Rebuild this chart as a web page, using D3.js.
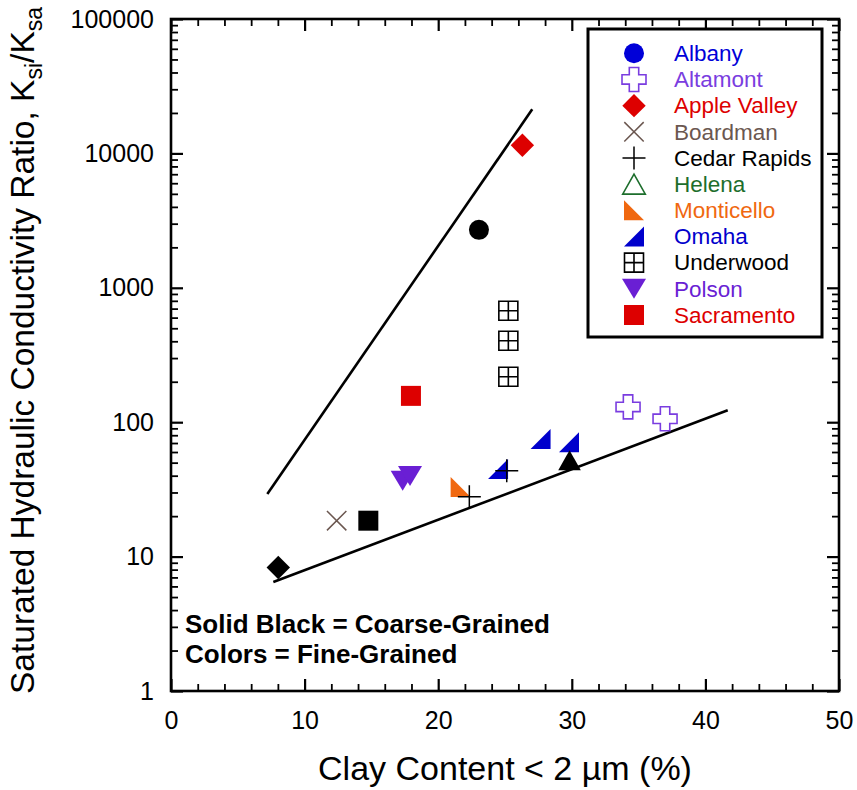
<!DOCTYPE html>
<html>
<head>
<meta charset="utf-8">
<script src="https://cdn.jsdelivr.net/npm/d3@7"></script>
<style>
  body { margin: 0; background: #fff; }
  text { font-family: "Liberation Sans", Arial, sans-serif; }
</style>
</head>
<body>
<div id="chart"></div>
<script>
// axis ticks
const xTicks = [0, 10, 20, 30, 40, 50];
const yTicks = [1, 10, 100, 1000, 10000, 100000];

// legend entries
const sites = ["Albany", "Altamont", "Apple Valley", "Boardman", "Cedar Rapids", "Helena",
               "Monticello", "Omaha", "Underwood", "Polson", "Sacramento"];
const siteSymbols = ["circle", "openCross", "diamond", "x", "plus", "openTriangle",
                     "rightTriLeft", "rightTriRight", "gridSquare", "downTriangle", "square"];
const siteColors = ["#0000d8", "#7a3de0", "#dd0000", "#6b5750", "#000000", "#1d6e2c",
                    "#f06810", "#0000cc", "#000000", "#6a1fd4", "#dd0000"];

// data points
const pointSite = ["Albany", "Apple Valley", "Underwood", "Underwood", "Underwood", "Sacramento",
                   "Polson", "Polson", "Boardman", "Sacramento", "Apple Valley", "Monticello",
                   "Omaha", "Omaha", "Omaha", "Helena", "Cedar Rapids", "Cedar Rapids",
                   "Altamont", "Altamont"];
const pointCoarse = [1, 0, 0, 0, 0, 0, 0, 0, 0, 1, 1, 0, 0, 0, 0, 1, 0, 0, 0, 0];
const clayPct = [23.05, 26.3, 25.25, 25.25, 25.25, 17.96, 17.34, 17.89, 12.4, 14.77, 8.03, 21.68,
                 24.48, 27.66, 29.79, 29.83, 22.33, 25.13, 34.21, 36.98];
const kRatio = [2700, 11500, 675, 404, 218, 157, 36.7, 39.8, 18.5, 18.5, 8.3, 33,
                44.9, 75, 70.9, 52.1, 27.9, 43.6, 130, 106];

// bounding lines
const upperLineX = [7.21, 27.04];
const upperLineY = [29.2, 21300];
const lowerLineX = [7.66, 41.67];
const lowerLineY = [6.47, 122.6];

const width = 857, height = 790;
const margin = { top: 19, right: 18, bottom: 99, left: 171 };

const svg = d3.select("#chart").append("svg")
  .attr("width", width)
  .attr("height", height);

const x = d3.scaleLinear().domain([0, 50]).range([margin.left, width - margin.right]);
const y = d3.scaleLog().domain([1, 100000]).range([height - margin.bottom, margin.top]);

const xMinor = d3.range(0, 51, 2).filter(d => d % 10 !== 0);
const yMinor = [];
yTicks.slice(0, -1).forEach(t => { for (let k = 2; k <= 9; k++) yMinor.push(t * k); });

const bottom = height - margin.bottom, right = width - margin.right;

function styleAxis(g, w) {
  g.select(".domain").remove();
  g.selectAll(".tick line").attr("stroke", "#000").attr("stroke-width", w);
  g.selectAll(".tick text").attr("fill", "#000").attr("font-size", 25)
    .attr("font-family", "'Liberation Sans', Arial, sans-serif");
}

// major ticks with labels
svg.append("g").attr("transform", `translate(0,${bottom})`)
  .call(d3.axisBottom(x).tickValues(xTicks).tickSize(-12).tickPadding(20).tickFormat(d3.format("d")))
  .call(g => styleAxis(g, 2.2));
svg.append("g").attr("transform", `translate(${margin.left},0)`)
  .call(d3.axisLeft(y).tickValues(yTicks).tickSize(-12).tickPadding(17).tickFormat(d3.format("d")))
  .call(g => styleAxis(g, 2.2));
svg.append("g").attr("transform", `translate(0,${margin.top})`)
  .call(d3.axisTop(x).tickValues(xTicks).tickSize(-12).tickFormat(""))
  .call(g => styleAxis(g, 2.2));
svg.append("g").attr("transform", `translate(${right},0)`)
  .call(d3.axisRight(y).tickValues(yTicks).tickSize(-12).tickFormat(""))
  .call(g => styleAxis(g, 2.2));

// minor ticks
svg.append("g").attr("transform", `translate(0,${bottom})`)
  .call(d3.axisBottom(x).tickValues(xMinor).tickSize(-7).tickFormat(""))
  .call(g => styleAxis(g, 1.8));
svg.append("g").attr("transform", `translate(0,${margin.top})`)
  .call(d3.axisTop(x).tickValues(xMinor).tickSize(-7).tickFormat(""))
  .call(g => styleAxis(g, 1.8));
svg.append("g").attr("transform", `translate(${margin.left},0)`)
  .call(d3.axisLeft(y).tickValues(yMinor).tickSize(-7).tickFormat(""))
  .call(g => styleAxis(g, 1.8));
svg.append("g").attr("transform", `translate(${right},0)`)
  .call(d3.axisRight(y).tickValues(yMinor).tickSize(-7).tickFormat(""))
  .call(g => styleAxis(g, 1.8));

// frame
svg.append("rect")
  .attr("x", margin.left).attr("y", margin.top)
  .attr("width", right - margin.left).attr("height", bottom - margin.top)
  .attr("fill", "none").attr("stroke", "#000").attr("stroke-width", 2.6);

// axis titles
svg.append("text")
  .attr("x", (margin.left + right) / 2).attr("y", 780)
  .attr("text-anchor", "middle").attr("font-size", 34)
  .text("Clay Content < 2 \u00b5m (%)");

const yTitle = svg.append("text")
  .attr("transform", "translate(34,694) rotate(-90)")
  .attr("font-size", 33.5);
yTitle.append("tspan").text("Saturated Hydraulic Conductivity Ratio, K");
yTitle.append("tspan").attr("font-size", 23).attr("dy", 8).text("si");
yTitle.append("tspan").attr("dy", -8).text("/K");
yTitle.append("tspan").attr("font-size", 23).attr("dy", 8).text("sa");

// lines
const line = d3.line().x(d => x(d[0])).y(d => y(d[1]));
[[upperLineX, upperLineY], [lowerLineX, lowerLineY]].forEach(([lx, ly]) => {
  svg.append("path")
    .attr("d", line(d3.zip(lx, ly)))
    .attr("fill", "none").attr("stroke", "#000").attr("stroke-width", 2.6);
});

// marker shapes
function symbolPath(sym) {
  switch (sym) {
    case "circle": return "M10,0A10,10 0 1,1 -10,0A10,10 0 1,1 10,0Z";
    case "square": return "M-10,-10H10V10H-10Z";
    case "diamond": return "M0,-11.7L11.7,0L0,11.7L-11.7,0Z";
    case "openCross": return "M-4.7,-12H4.7V-4.7H12V4.7H4.7V12H-4.7V4.7H-12V-4.7H-4.7Z";
    case "x": return "M-9.7,-9.7L9.7,9.7M-9.7,9.7L9.7,-9.7";
    case "plus": return "M-11.5,0H11.5M0,-11.5V11.5";
    case "openTriangle": return "M0,-10L11.3,10L-11.3,10Z";
    case "downTriangle": return "M-12,-10L12,-10L0,10Z";
    case "rightTriLeft": return "M-10,-10L10,10L-10,10Z";
    case "rightTriRight": return "M10,-10L10,10L-10,10Z";
    case "gridSquare": return "M-9.5,-9.5H9.5V9.5H-9.5Z M-9.5,0H9.5 M0,-9.5V9.5";
  }
}

function drawMarker(g, sym, color) {
  const p = g.append("path").attr("d", symbolPath(sym));
  if (sym === "x" || sym === "plus") {
    p.attr("fill", "none").attr("stroke", color).attr("stroke-width", 1.5);
  } else if (sym === "openCross" || sym === "openTriangle" || sym === "gridSquare") {
    p.attr("fill", "#fff").attr("stroke", color).attr("stroke-width", 1.6);
  } else {
    p.attr("fill", color);
  }
}

// points
clayPct.forEach((c, i) => {
  const s = sites.indexOf(pointSite[i]);
  const g = svg.append("g").attr("transform", `translate(${x(c)},${y(kRatio[i])})`);
  if (pointCoarse[i]) {
    g.append("path").attr("d", symbolPath(siteSymbols[s])).attr("fill", "#000");
  } else {
    drawMarker(g, siteSymbols[s], siteColors[s]);
  }
});

// legend
const legend = svg.append("g");
legend.append("rect")
  .attr("x", 588).attr("y", 29).attr("width", 234).attr("height", 308)
  .attr("fill", "#fff").attr("stroke", "#000").attr("stroke-width", 3);
sites.forEach((name, i) => {
  const ry = 53.3 + i * 26.17;
  drawMarker(legend.append("g").attr("transform", `translate(634,${ry})`), siteSymbols[i], siteColors[i]);
  legend.append("text")
    .attr("x", 674).attr("y", ry + 7.8)
    .attr("font-size", 22.5).attr("fill", siteColors[i])
    .text(name);
});

// annotation
svg.append("text").attr("x", 185).attr("y", 633)
  .attr("font-size", 26).attr("font-weight", "bold")
  .text("Solid Black = Coarse-Grained");
svg.append("text").attr("x", 185).attr("y", 663)
  .attr("font-size", 26).attr("font-weight", "bold")
  .text("Colors = Fine-Grained");
</script>
</body>
</html>
